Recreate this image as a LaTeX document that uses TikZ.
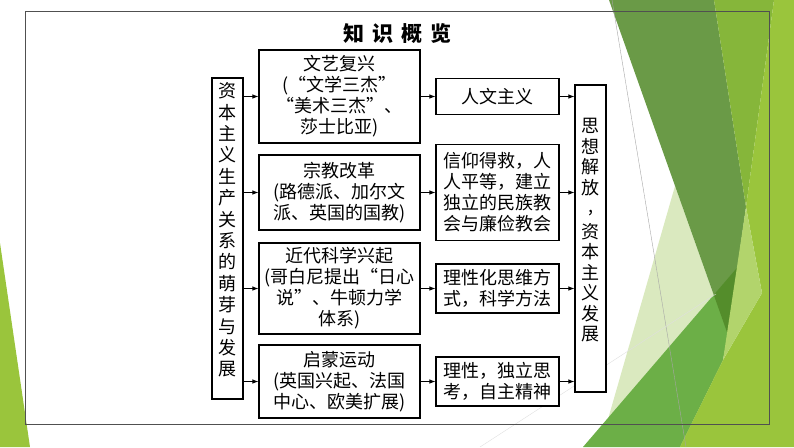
\documentclass[tikz,border=0pt]{standalone}
\usepackage{fontspec}
\setmainfont{Noto Sans CJK SC}
\usetikzlibrary{arrows.meta}
\definecolor{leafpale}{HTML}{DAE9BF}
\definecolor{leafmid}{HTML}{6CAF47}
\definecolor{leafdark}{HTML}{508827}
\definecolor{leafolive}{HTML}{86B63A}
\definecolor{leaflime}{HTML}{9AC53C}
\definecolor{leafsoft}{HTML}{B2D46C}
\definecolor{framegray}{HTML}{505050}

\begin{document}
\begin{tikzpicture}
  [x=1pt,y=-1pt,
   box/.style={draw,line width=1.1pt,fill=white,inner sep=0pt,align=center,
     font=\fontsize{18}{21}\selectfont},
   arr/.style={line width=.9pt,-{Latex[length=6pt,width=4.5pt]}}]
\useasboundingbox (0,0) rectangle (794,447);
% green background shapes
\fill[leaflime] (0,243) -- (30,447) -- (0,447) -- cycle;
\fill[leafpale] (675,186) -- (600,447) -- (700,447) -- (728,335) -- cycle;
\fill[leafmid] (583,447) -- (742,262) -- (723,360) -- (680,447) -- cycle;
\fill[leafdark,fill opacity=.85] (609,0) -- (714,0) -- (746,207) -- (728,335) -- cycle;
\fill[leafolive] (714,0) -- (774,0) -- (746,207) -- cycle;
\fill[leaflime] (774,0) -- (794,0) -- (794,447) -- (680,447) -- (723,360)
  -- (762,293) -- (746,207) -- cycle;
\fill[leafsoft] (746,207) -- (762,293) -- (723,360) -- cycle;
\draw[gray!70,line width=.4pt] (612,0) -- (686,447);
\draw[gray!25,line width=.4pt] (480,447) -- (716,294);
\draw[framegray,line width=.8pt] (25,11) rectangle (769,424);

\node (t0) at (397.5,34) {\fontsize{21}{24}\selectfont\bfseries
  知\hspace{8pt}识\hspace{8pt}概\hspace{8pt}览};

\node[box,minimum width=31pt,minimum height=321pt,font=\fontsize{18}{21.4}\selectfont]
  (s) at (227.5,238.5)
  {资\\本\\主\\义\\生\\产\\关\\系\\的\\萌\\芽\\与\\发\\展\\[-3pt]\mbox{}};

\node[box,minimum width=161pt,minimum height=93pt] (a1) at (339.5,96.5)
  {文艺复兴\\(“文学三杰”\\“美术三杰”、\\莎士比亚)};
\node[box,minimum width=161pt,minimum height=75pt] (a2) at (339.5,192.5)
  {宗教改革\\(路德派、加尔文\\派、英国的国教)};
\node[box,minimum width=161pt,minimum height=91pt] (a3) at (339.5,288.5)
  {近代科学兴起\\(哥白尼提出“日心\\说”、牛顿力学\\体系)};
\node[box,minimum width=161pt,minimum height=73pt] (a4) at (339.5,381.5)
  {启蒙运动\\(英国兴起、法国\\中心、欧美扩展)};

\node[box,minimum width=123pt,minimum height=36pt] (b1) at (497.5,96.5)
  {人文主义};
\node[box,minimum width=123pt,minimum height=96pt] (b2) at (497.5,192.5)
  {信仰得救，人\\人平等，建立\\独立的民族教\\会与廉俭教会};
\node[box,minimum width=123pt,minimum height=49pt] (b3) at (497.5,288.5)
  {理性化思维方\\式，科学方法};
\node[box,minimum width=123pt,minimum height=49pt] (b4) at (497.5,381.5)
  {理性，独立思\\考，自主精神};

% comma sits between 放 and 资
\node[box,minimum width=31pt,minimum height=307pt,font=\fontsize{18}{20.5}\selectfont]
  (t) at (590.5,238.5)
  {思\\想\\解\\放\\[13.5pt]\rlap{\makebox[18pt]{\raisebox{26pt}{,}}}资\\本\\主\\义\\发\\展\\[-2.5pt]\mbox{}};

\foreach \to in {a1,a2,a3,a4}
  \draw[arr] (s.east |- \to.west) -- (\to.west);
\foreach \from/\to in {a1/b1,a2/b2,a3/b3,a4/b4}
  \draw[arr] (\from.east) -- (\to.west);
\foreach \from in {b1,b2,b3,b4}
  \draw[arr] (\from.east) -- (t.west |- \from.east);

\end{tikzpicture}
\end{document}
